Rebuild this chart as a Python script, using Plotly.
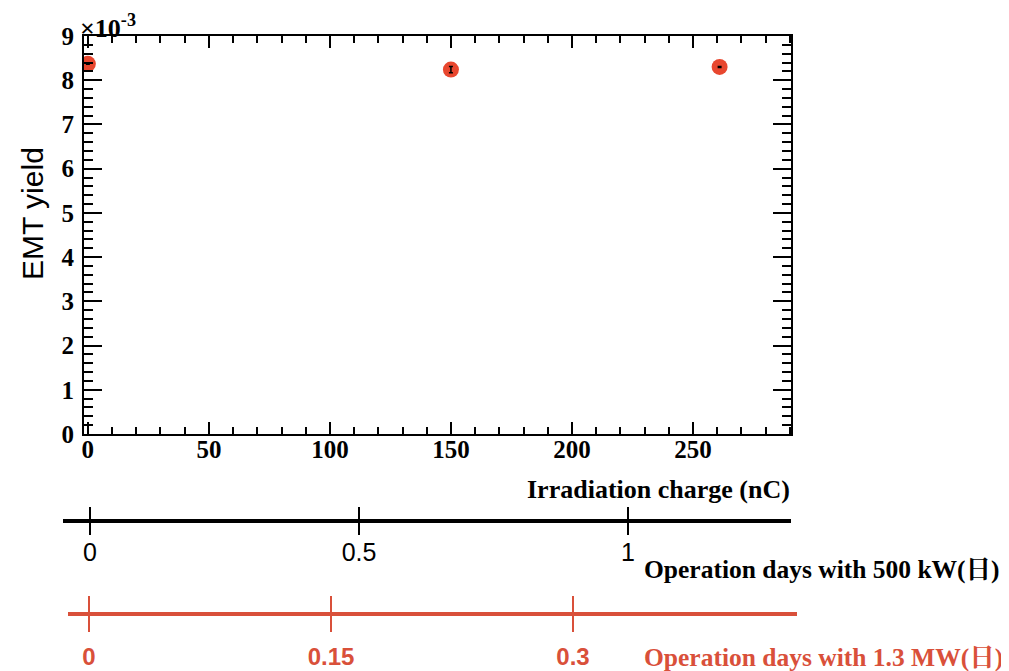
import plotly.graph_objects as go

# ---- data ----
charge_nC = [0.0, 150.0, 261.0]
yield_e3 = [8.37, 8.24, 8.30]          # EMT yield in units of 1e-3
yield_err_e3 = [0.01, 0.07, 0.01]

days_500kW_ticks = [0, 0.5, 1]
days_500kW_labels = ["0", "0.5", "1"]
days_1p3MW_ticks = [0, 0.15, 0.3]
days_1p3MW_labels = ["0", "0.15", "0.3"]

W, H = 1009, 671
OFF = 8  # default page body margin
RED = "#e8472f"
AXRED = "#d9503a"
SERIF = "Liberation Serif, Noto Serif CJK JP, Noto Sans CJK JP"
SANS = "Liberation Sans, Arial, sans-serif"

def px(x):
    return (x - OFF) / W

def py(y):
    return 1 - (y - OFF) / H

fig = go.Figure()

# markers
fig.add_trace(go.Scatter(
    x=charge_nC, y=yield_e3, mode="markers",
    marker=dict(color=RED, size=16, line=dict(width=0)),
    hoverinfo="x+y", showlegend=False))
# error bars on top of markers
fig.add_trace(go.Scatter(
    x=charge_nC, y=yield_e3, mode="markers",
    marker=dict(color=RED, size=1, opacity=0),
    error_y=dict(type="data", array=yield_err_e3, visible=True,
                 color="black", thickness=1.5, width=2),
    hoverinfo="skip", showlegend=False))

# invisible traces for secondary day axes
fig.add_trace(go.Scatter(x=days_500kW_ticks, y=[0] * 3, xaxis="x2", yaxis="y2",
                         mode="markers", marker=dict(opacity=0), hoverinfo="skip",
                         showlegend=False))
fig.add_trace(go.Scatter(x=days_1p3MW_ticks, y=[0] * 3, xaxis="x3", yaxis="y3",
                         mode="markers", marker=dict(opacity=0), hoverinfo="skip",
                         showlegend=False))

tickfont_main = dict(family=SERIF, size=25, color="black", weight="bold")

# 500 kW axis: 0 at px 90, 1 at px 628
k2 = 628 - 90
x2_range = [(63 - 90) / k2, (791 - 90) / k2]
# 1.3 MW axis: 0 at px 89, 0.15 at px 331
k3 = (331 - 89) / 0.15
x3_range = [(68 - 89) / k3, (797 - 89) / k3]

fig.update_layout(
    width=W, height=H,
    margin=dict(l=0, r=0, t=0, b=0, autoexpand=False),
    paper_bgcolor="white", plot_bgcolor="white",
    xaxis=dict(
        domain=[px(84), px(791)], range=[-1.6, 290.5], automargin=False,
        showline=True, linewidth=2, linecolor="black", mirror="ticks",
        ticks="inside", ticklen=12, tickwidth=1.5, tickcolor="black",
        tick0=0, dtick=50, tickfont=tickfont_main,
        minor=dict(dtick=10, ticks="inside", ticklen=7, tickwidth=1.5, tickcolor="black"),
        showgrid=False, zeroline=False, ticklabelstandoff=-8,
    ),
    yaxis=dict(
        domain=[py(434), py(36)], range=[0, 9], automargin=False,
        showline=True, linewidth=2, linecolor="black", mirror="ticks",
        ticks="inside", ticklen=18, tickwidth=1.5, tickcolor="black",
        tick0=0, dtick=1, tickfont=tickfont_main,
        minor=dict(dtick=0.2, ticks="inside", ticklen=9, tickwidth=1.5, tickcolor="black"),
        showgrid=False, zeroline=False, ticklabelstandoff=3,
    ),
    xaxis2=dict(
        domain=[px(63), px(791)], range=x2_range, anchor="y2", automargin=False,
        tickvals=days_500kW_ticks, ticktext=days_500kW_labels,
        showgrid=True, gridcolor="black", gridwidth=1.5,
        showline=False, zeroline=False, ticks="",
        tickfont=dict(family=SANS, size=25, color="black"),
        ticklabelstandoff=0,
    ),
    yaxis2=dict(
        domain=[py(535), py(507)], range=[-1, 1], anchor="x2", automargin=False,
        showgrid=False, showticklabels=False, showline=False, ticks="",
        zeroline=True, zerolinecolor="black", zerolinewidth=4,
    ),
    xaxis3=dict(
        domain=[px(68), px(797)], range=x3_range, anchor="y3", automargin=False,
        tickvals=days_1p3MW_ticks, ticktext=days_1p3MW_labels,
        showgrid=True, gridcolor=AXRED, gridwidth=1.5,
        showline=False, zeroline=False, ticks="",
        tickfont=dict(family=SANS, size=24, color=AXRED, weight="bold"),
        ticklabelstandoff=8,
    ),
    yaxis3=dict(
        domain=[py(632), py(596)], range=[-1, 1], anchor="x3", automargin=False,
        showgrid=False, showticklabels=False, showline=False, ticks="",
        zeroline=True, zerolinecolor=AXRED, zerolinewidth=4,
    ),
    annotations=[
        dict(text="EMT yield", x=px(32), y=py(214), xref="paper", yref="paper",
             textangle=-90, showarrow=False, xanchor="center", yanchor="middle",
             font=dict(family=SANS, size=30, color="black")),
        dict(text="×10<sup>-3</sup>", x=px(78), y=py(26), xref="paper", yref="paper",
             showarrow=False, xanchor="left", yanchor="middle",
             font=dict(family=SERIF, size=26, color="black", weight="bold")),
        dict(text="Irradiation charge (nC)", x=px(792), y=py(489), xref="paper", yref="paper",
             showarrow=False, xanchor="right", yanchor="middle",
             font=dict(family=SERIF, size=26, color="black", weight="bold")),
        dict(text="Operation days with 500 kW(日)", x=px(642), y=py(569), xref="paper", yref="paper",
             showarrow=False, xanchor="left", yanchor="middle",
             font=dict(family=SERIF, size=25.5, color="black", weight="bold")),
        dict(text="Operation days with 1.3 MW(日)", x=px(642), y=py(657), xref="paper", yref="paper",
             showarrow=False, xanchor="left", yanchor="middle",
             font=dict(family=SERIF, size=25.5, color=AXRED, weight="bold")),
    ],
)

fig.write_html("out.html")
